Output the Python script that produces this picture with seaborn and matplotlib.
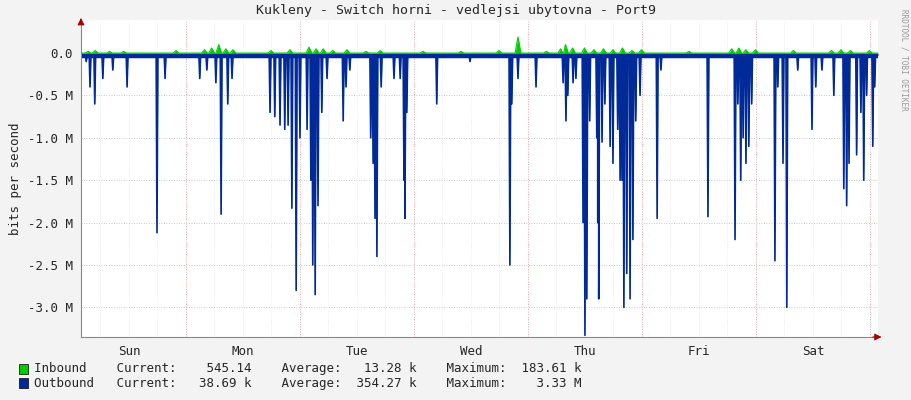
import numpy as np
import pandas as pd
import matplotlib
matplotlib.use("Agg")
import matplotlib.pyplot as plt
import seaborn as sns

# outbound spikes: hours since start, bits per second (M)
out_hours = [1.1, 1.9, 2.9, 4.6, 6.7, 9.7, 16.0, 17.7, 25.0, 26.5, 28.4, 29.5, 30.9, 31.8,
             39.8, 40.8, 41.9, 42.9, 43.6, 44.4, 45.3, 46.1, 47.6, 48.4, 48.8, 49.3, 49.9,
             50.7, 51.8, 55.2, 55.8, 56.6, 61.0, 61.5, 61.9, 62.3, 63.2, 65.9, 67.2, 68.0,
             68.2, 68.6, 74.9, 81.9, 90.3, 90.7, 92.0, 95.8, 101.5, 102.1, 102.5, 103.6,
             104.2, 105.7, 106.1, 106.5, 107.1, 108.6, 108.8, 109.0, 109.7, 110.3, 111.4,
             112.0, 113.0, 113.5, 113.9, 114.3, 114.9, 115.6, 116.2, 116.8, 117.7, 121.3,
             122.1, 132.0, 137.7, 138.3, 138.9, 139.4, 140.0, 140.6, 141.2, 146.1, 146.7,
             147.8, 148.6, 150.9, 153.9, 154.7, 156.0, 158.5, 160.6, 161.2, 161.7, 163.3,
             164.2, 164.8, 165.4, 166.7, 167.1]
out_values = [-0.1, -0.4, -0.6, -0.3, -0.2, -0.4, -2.12, -0.3, -0.3, -0.2, -0.35, -1.9, -0.6, -0.3,
              -0.7, -0.75, -0.85, -0.9, -0.85, -1.83, -2.8, -1.0, -0.9, -1.5, -2.5, -2.85, -1.8,
              -0.7, -0.3, -0.8, -0.4, -0.2, -1.0, -1.3, -1.95, -2.4, -0.4, -0.3, -0.3, -1.5,
              -1.95, -0.7, -0.6, -0.1, -2.5, -0.6, -0.3, -0.4, -0.35, -0.8, -0.5, -0.35,
              -0.3, -2.0, -3.33, -2.9, -0.8, -1.0, -2.0, -2.9, -1.05, -0.6, -1.1,
              -1.3, -0.9, -1.5, -1.5, -3.0, -2.6, -2.9, -2.2, -0.8, -0.5, -1.95,
              -0.2, -1.93, -2.2, -0.6, -1.5, -1.0, -1.3, -1.1, -0.6, -2.45, -0.4,
              -1.3, -3.0, -0.2, -0.9, -0.4, -0.2, -0.5, -1.6, -1.8, -1.3, -1.2,
              -0.7, -1.5, -0.5, -1.1, -0.4]
out_base = -0.03

in_hours = [1.5, 3.0, 6.0, 9.0, 20.0, 26.0, 27.5, 29.0, 30.5, 32.0, 40.0, 44.0, 48.0, 49.5,
            51.0, 53.0, 56.0, 60.0, 63.0, 72.0, 80.0, 88.0, 92.0, 98.0, 101.0, 102.0, 103.5,
            106.0, 108.0, 110.0, 112.0, 114.0, 116.0, 118.0, 128.0, 137.0, 138.5, 140.0,
            142.0, 150.0, 158.0, 160.0, 162.0, 166.0]
in_values = [0.02, 0.03, 0.02, 0.02, 0.03, 0.04, 0.06, 0.1, 0.05, 0.04, 0.03, 0.04, 0.07, 0.05,
             0.05, 0.03, 0.04, 0.02, 0.03, 0.02, 0.02, 0.03, 0.19, 0.02, 0.05, 0.1, 0.06,
             0.06, 0.04, 0.05, 0.04, 0.06, 0.03, 0.04, 0.02, 0.05, 0.06, 0.04,
             0.04, 0.03, 0.03, 0.04, 0.03, 0.03]

day_labels = ["Sun", "Mon", "Tue", "Wed", "Thu", "Fri", "Sat"]
first_midnight = -1.9
t_end = 167.8

legend_rows = [("Inbound", "#00CC00", "545.14", "13.28 k", "183.61 k"),
               ("Outbound", "#002A97", "38.69 k", "354.27 k", "3.33 M")]

# build series tables
w = 0.18
rows = [(0.0, out_base)]
for h, v in zip(out_hours, out_values):
    rows += [(h - w, out_base), (h, v), (h + w, out_base)]
rows.append((t_end, out_base))
out_df = pd.DataFrame(rows, columns=["hour", "bps"]).sort_values("hour")

irows = [(0.0, 0.0)]
for h, v in zip(in_hours, in_values):
    irows += [(h - 0.6, 0.0), (h, v), (h + 0.6, 0.0)]
irows.append((t_end, 0.0))
in_df = pd.DataFrame(irows, columns=["hour", "bps"]).sort_values("hour")

sns.set_style("white")
plt.rcParams["font.family"] = ["DejaVu Sans Mono"]

fig = plt.figure(figsize=(9.11, 4.0), dpi=100, facecolor="#F3F3F3")
ax = fig.add_axes([81 / 911, 1 - 337 / 400, 797 / 911, 317 / 400])
ax.set_facecolor("white")

ax.fill_between(in_df["hour"], 0, in_df["bps"], color="#00CC00", lw=0)
sns.lineplot(data=in_df, x="hour", y="bps", color="#00CC00", lw=0.8, ax=ax)
ax.fill_between(out_df["hour"], 0, out_df["bps"], color="#002A97", lw=0)
sns.lineplot(data=out_df, x="hour", y="bps", color="#002A97", lw=1.2, ax=ax)
ax.axhline(out_base, color="#002A97", lw=2.5)

ax.set_xlim(0, t_end)
ax.set_ylim(-3.35, 0.39)
yt = [0.0, -0.5, -1.0, -1.5, -2.0, -2.5, -3.0]
ax.set_yticks(yt)
ax.set_yticklabels(["0.0"] + [f"{v:.1f} M" for v in yt[1:]], fontsize=9)
for v in yt:
    ax.axhline(v, color="#BBBBBB", lw=0.6, ls=(0, (1, 2)), zorder=0)
mids = [first_midnight + 24 * i for i in range(1, 8)]
for m in mids:
    ax.axvline(m, color="#FF8080", lw=0.6, ls=(0, (1, 2)), zorder=0)
for m in np.arange(first_midnight + 6, t_end, 6):
    ax.axvline(m, color="#DDDDDD", lw=0.5, ls=(0, (1, 2)), zorder=0)
ax.set_xticks([first_midnight + 12 + 24 * i for i in range(7)])
ax.set_xticklabels(day_labels, fontsize=9)
ax.tick_params(axis="both", length=0, pad=6)
ax.set_xlabel("")
ax.set_ylabel("bits per second", fontsize=9)
for s in ["top", "right"]:
    ax.spines[s].set_visible(False)
ax.spines["left"].set_color("#888888")
ax.spines["bottom"].set_color("#888888")
ax.annotate("", xy=(1.008, 0), xycoords="axes fraction", xytext=(0.99, 0),
            arrowprops=dict(arrowstyle="-|>", color="#AA0000", lw=0.8))
ax.annotate("", xy=(0, 1.015), xycoords="axes fraction", xytext=(0, 0.99),
            arrowprops=dict(arrowstyle="-|>", color="#AA0000", lw=0.8))

fig.text(0.5, 0.965, "Kukleny - Switch horni - vedlejsi ubytovna - Port9",
         ha="center", fontsize=9.5)
fig.text(0.992, 0.85, "RRDTOOL / TOBI OETIKER", rotation=270, fontsize=5.5,
         color="#999999", ha="center", va="center")

for i, (name, col, cur, avg, mx) in enumerate(legend_rows):
    y = 0.078 - i * 0.037
    fig.patches.append(plt.Rectangle((19 / 911, y - 0.012), 9 / 911, 0.025,
                                     transform=fig.transFigure, facecolor=col,
                                     edgecolor="black", lw=0.5))
    fig.text(34 / 911, y,
             f"{name:<11}Current:{cur:>10}    Average:{avg:>10}    Maximum:{mx:>10}",
             fontsize=9, va="center")

fig.savefig("out.png", dpi=100, facecolor=fig.get_facecolor())
